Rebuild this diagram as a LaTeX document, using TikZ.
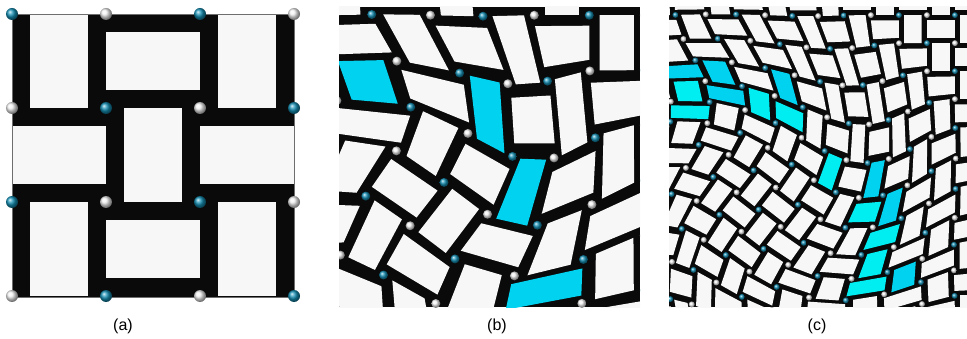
\documentclass[tikz,border=0pt]{standalone}
\usepackage{fontspec}
\setmainfont{Liberation Sans}
\usetikzlibrary{calc}
\definecolor{weaveblack}{HTML}{0A0A0A}
\definecolor{weavehole}{HTML}{F7F7F7}
\definecolor{weavecyan}{HTML}{00D2F0}
\definecolor{weavecyanlt}{HTML}{00EEF2}
\definecolor{weaverule}{HTML}{6E6E6E}
\definecolor{hingeteal}{HTML}{1590B5}
\definecolor{hingewhite}{HTML}{F2F2F2}
\tikzset{panellabel/.style={font=\fontsize{16}{18}\selectfont, inner sep=0pt}}

% warp of the weave, set once per panel (units of 100px)
\newcommand{\setwarp}[8]{% x-org, y-org, cell, off-x, off-y, twist, r-in, r-out
  \def\wxo{#1}\def\wyo{#2}\def\wcell{#3}\def\wox{#4}\def\woy{#5}%
  \def\wtheta{#6}\def\wrin{#7}\def\wrout{#8}}
\newcommand{\wcx}{0.92}
\newcommand{\wcy}{2.03}
\newcommand{\wm}{0.19}
\newcommand{\warppt}[3]{% u, v (lattice), coordinate name
  \pgfmathsetmacro{\wdx}{(#1-\wox)*\wcell-\wcx}
  \pgfmathsetmacro{\wdy}{(#2-\woy)*\wcell-\wcy}
  \pgfmathsetmacro{\wr}{veclen(\wdx,\wdy)}
  \pgfmathsetmacro{\wt}{min(max((\wr-\wrin)/(\wrout-\wrin),0),1)}
  \pgfmathsetmacro{\wang}{\wtheta*(1-\wt*\wt*(3-2*\wt))}
  \pgfmathsetmacro{\wmx}{\wcx+\wdx*cos(\wang)-\wdy*sin(\wang)}
  \pgfmathsetmacro{\wmy}{\wcy+\wdx*sin(\wang)+\wdy*cos(\wang)}
  \coordinate (#3) at ({100*(\wxo+\wmx)},{100*(\wyo+\wmy)});
}
\newcommand{\weavecells}[3]{% first, last cell index, cyan targets on/off
  \foreach \i in {#1,...,#2} {
    \foreach \j in {#1,...,#2} {
      \pgfmathtruncatemacro{\wpar}{mod(\i+\j+40,2)}
      \ifnum\wpar=0
        \warppt{\i+\wm}{\j}{q1}\warppt{\i+1-\wm}{\j}{q2}
        \warppt{\i+1-\wm}{\j+1}{q3}\warppt{\i+\wm}{\j+1}{q4}
      \else
        \warppt{\i}{\j+\wm}{q1}\warppt{\i+1}{\j+\wm}{q2}
        \warppt{\i+1}{\j+1-\wm}{q3}\warppt{\i}{\j+1-\wm}{q4}
      \fi
      \xdef\wfill{weavehole}
      \ifnum#3=1
        \warppt{\i+0.5}{\j+0.5}{qc}
        \pgfmathsetmacro{\wgx}{\wxo+\wmx}
        \pgfmathsetmacro{\wgy}{\wyo+\wmy}
        \foreach \tx/\ty/\tc in \wtargets {
          \pgfmathtruncatemacro{\whit}{veclen(\wgx-\tx/100,\wgy-\ty/100)<\whitr}
          \ifnum\whit=1 \xdef\wfill{\tc}\fi
        }
      \fi
      \fill[\wfill] (q1) -- (q2) -- (q3) -- (q4) -- cycle;
    }
  }
}
\newcommand{\weavehinges}[3]{% first, last node index, radius
  \foreach \i in {#1,...,#2} {
    \foreach \j in {#1,...,#2} {
      \pgfmathtruncatemacro{\wpar}{mod(\i+\j+40,2)}
      \warppt{\i}{\j}{h}
      \ifnum\wpar=0 \shade[ball color=hingeteal] (h) circle (#3);
      \else \shade[ball color=hingewhite] (h) circle (#3); \fi
    }
  }
}

\begin{document}
\begin{tikzpicture}[x=1pt, y=-1pt]
  \useasboundingbox (0,0) rectangle (967,339);

  % (a) undeformed weave
  \setwarp{0.12}{0.14}{0.94}{0}{0}{0}{1}{2}
  \fill[weaveblack] (12,14) rectangle (294,297);
  \weavecells{0}{2}{0}
  \draw[weaverule, line width=0.6pt] (12,14) rectangle (294,297);
  \weavehinges{0}{3}{6}
  \node[panellabel] (labA) at (123,326) {(a)};

  % (b) twisted weave, coarse cells
  \setwarp{3.39}{0.07}{0.55}{-0.55}{-0.15}{38}{0.3}{2.2}
  \def\whitr{0.3}
  \def\wtargets{385/88/weavecyan, 488/120/weavecyan, 545/207/weavecyan,
    558/293/weavecyan}
  \begin{scope}
    \clip (339,7) rectangle (640,307);
    \fill[weaveblack] (339,7) rectangle (640,307);
    \weavecells{-3}{7}{1}
    \weavehinges{-3}{8}{4.5}
  \end{scope}
  \node[panellabel] (labB) at (497,326) {(b)};

  % (c) twisted weave, fine cells
  \setwarp{6.69}{0.07}{0.28}{-0.21}{-0.29}{38}{0.3}{2.2}
  \def\whitr{0.165}
  \def\wtargets{682/78/weavecyan, 732/80/weavecyan, 782/93/weavecyan,
    839/120/weavecyan, 873/167/weavecyan, 895/220/weavecyan,
    898/270/weavecyan, 702/100/weavecyanlt, 751/107/weavecyanlt,
    799/127/weavecyanlt, 832/157/weavecyanlt, 862/205/weavecyanlt,
    875/250/weavecyanlt, 877/297/weavecyanlt}
  \begin{scope}
    \clip (669,7) rectangle (967,307);
    \fill[weaveblack] (669,7) rectangle (967,307);
    \weavecells{-4}{13}{1}
    \weavehinges{-4}{14}{3}
  \end{scope}
  \node[panellabel] (labC) at (817,326) {(c)};
\end{tikzpicture}
\end{document}
